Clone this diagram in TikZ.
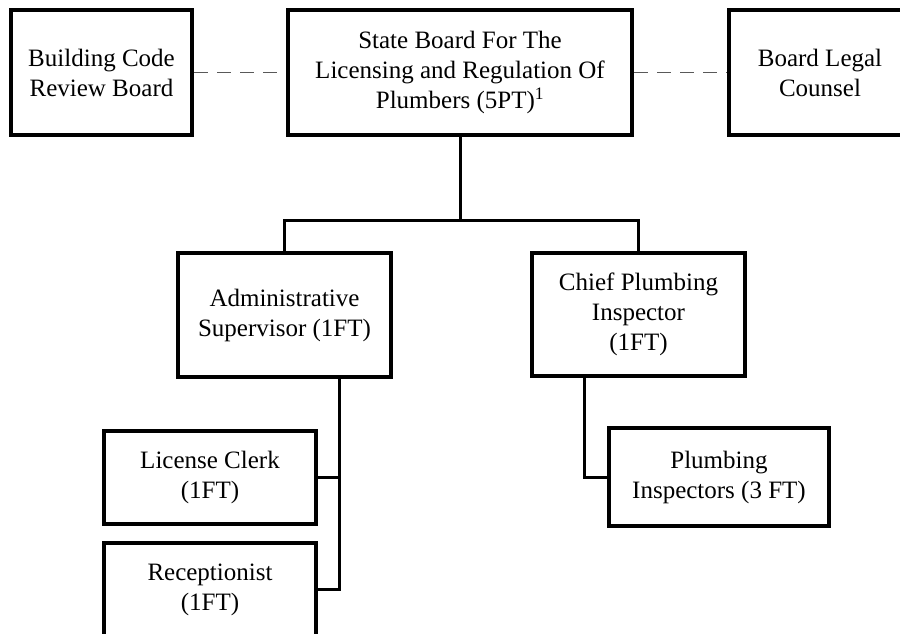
\documentclass[tikz,border=0pt]{standalone}
\usepackage{fontspec}
\setmainfont{Liberation Serif}
\usepackage{tikz}
\usetikzlibrary{calc,positioning}

\begin{document}
\begin{tikzpicture}[x=1pt,y=1pt,
		orgbox/.style={draw,line width=4pt,align=center,inner sep=0pt,font=\fontsize{25}{30}\selectfont},
		link/.style={line width=3pt},
		dotted link/.style={dash pattern=on 14pt off 9pt,line width=1.3pt,color=black!65}]
			\useasboundingbox (0,0) rectangle (900,-633);

			\node[orgbox,minimum width=181,minimum height=125] (review) at (101.5,-72.5) {Building Code\\Review Board};
			\node[orgbox,minimum width=344,minimum height=125] (board) at (460,-72.5) {State Board For The\\Licensing and Regulation Of\\Plumbers (5PT)\textsuperscript{1}};
			\node[orgbox,minimum width=182,minimum height=125] (counsel) at (820,-72.5) {Board Legal\\Counsel};

			\node[orgbox,minimum width=213,minimum height=124] (admin) at (284.5,-315) {Administrative\\Supervisor (1FT)};
			\node[orgbox,minimum width=213,minimum height=123] (chief) at (638.5,-314.5) {Chief Plumbing\\Inspector\\(1FT)};

			\node[orgbox,minimum width=212,minimum height=93] (clerk) at (210,-477.5) {License Clerk\\(1FT)};
			\node[orgbox,minimum width=212,minimum height=93] (recep) at (210,-589.5) {Receptionist\\(1FT)};
			\node[orgbox,minimum width=220,minimum height=98] (plumb) at (719,-477) {Plumbing\\Inspectors (3 FT)};

			\draw[dotted link] (review) -- (board);
			\draw[dotted link] (board) -- (counsel);

			\coordinate (split) at ($(board.south)+(0,-83)$);
			\draw[link] (board.south) -- (split);
			\draw[link] (admin.north) |- (split) -| (chief.north);

			\coordinate (adminbus) at ($(admin.south)+(54.5,0)$);
			\draw[link] (adminbus) |- (recep.east);
			\draw[link] (clerk.east) -| (adminbus);

			\coordinate (chiefbus) at ($(chief.south)+(-54.5,0)$);
			\draw[link] (chiefbus) |- (plumb.west);
		\end{tikzpicture}
\end{document}
